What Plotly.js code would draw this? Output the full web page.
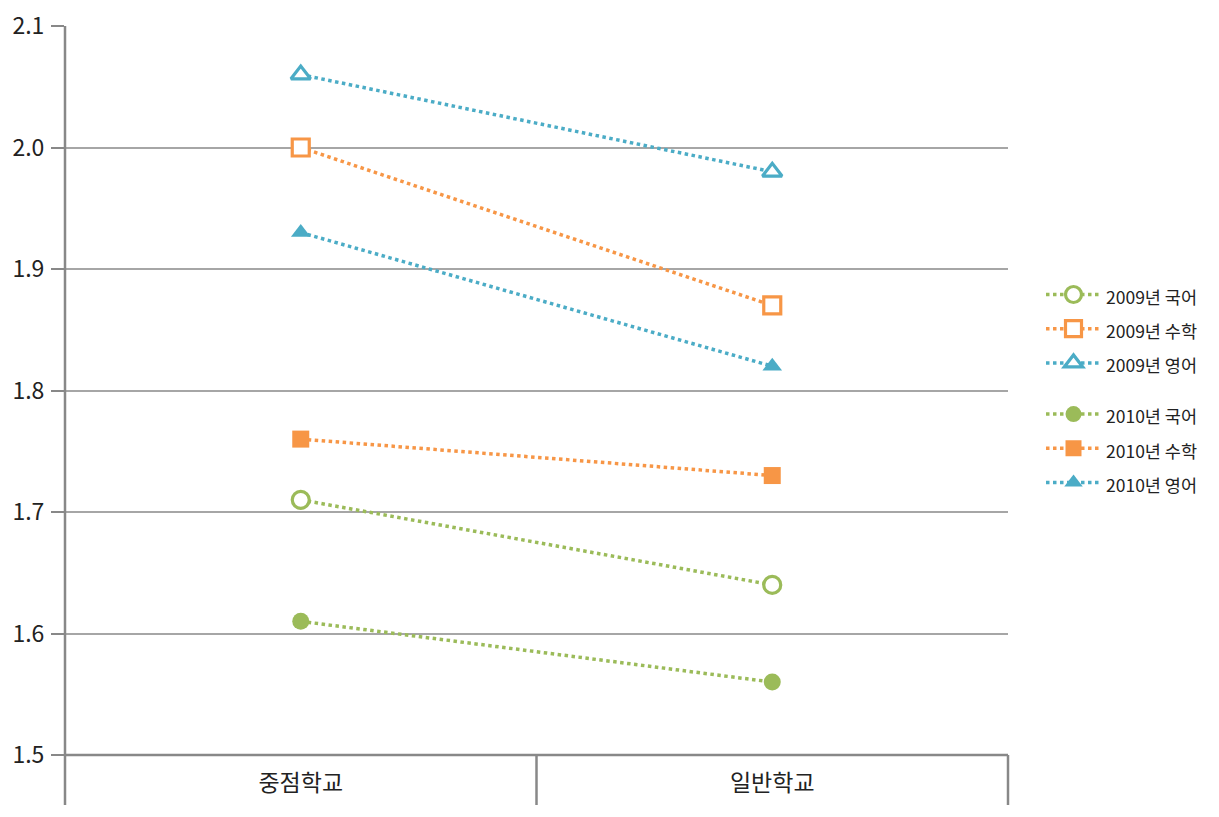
<!DOCTYPE html>
<html><head><meta charset="utf-8">
<script src="https://cdn.plot.ly/plotly-3.0.1.min.js"></script>
<style>body{margin:0;background:#fff}#c{width:1219px;height:817px}</style>
</head><body><div id="c"></div>
<script>
const categories = ['중점학교', '일반학교'];
const kor2009 = [1.71, 1.64];
const math2009 = [2.00, 1.87];
const eng2009 = [2.06, 1.98];
const kor2010 = [1.61, 1.56];
const math2010 = [1.76, 1.73];
const eng2010 = [1.93, 1.82];
const seriesNames = ['2009년 국어', '2009년 수학', '2009년 영어', '2010년 국어', '2010년 수학', '2010년 영어'];

const green = '#9BBB59', orange = '#F79646', blue = '#4BACC6';
const font = '"Noto Sans CJK KR", "Noto Sans", sans-serif';

function tr(name, y, color, symbol, open, group) {
  return {
    type: 'scatter', mode: 'lines+markers', x: categories, y: y,
    name: '<span style="font-size:17.5px">' + name + '</span>',
    legendgroup: group,
    line: {color: color, width: 3.5, dash: 'dot'},
    marker: {color: open ? '#ffffff' : color, symbol: symbol, size: 17,
             line: {color: color, width: open ? 3.2 : 0}}
  };
}
const data = [
  tr(seriesNames[0], kor2009, green, 'circle', true, 'a'),
  tr(seriesNames[1], math2009, orange, 'square', true, 'a'),
  tr(seriesNames[2], eng2009, blue, 'triangle-up', true, 'a'),
  tr(seriesNames[3], kor2010, green, 'circle', false, 'b'),
  tr(seriesNames[4], math2010, orange, 'square', false, 'b'),
  tr(seriesNames[5], eng2010, blue, 'triangle-up', false, 'b')
];

const below = -50 / 729;
const layout = {
  width: 1219, height: 817,
  margin: {l: 65, r: 211, t: 26, b: 62},
  paper_bgcolor: '#fff', plot_bgcolor: '#fff',
  font: {family: font, color: '#222'},
  showlegend: true,
  legend: {x: 1.035, xanchor: 'left', y: 0.662, yanchor: 'top', traceorder: 'grouped', tracegroupgap: 17,
           font: {size: 24, family: font, color: '#222'}, itemwidth: 55, bgcolor: 'rgba(0,0,0,0)'},
  xaxis: {type: 'category', range: [-0.5, 1.5], showgrid: false, zeroline: false, showline: false,
          ticks: '', tickfont: {size: 23, family: font, color: '#222'}, ticklabelstandoff: 12},
  yaxis: {range: [1.5, 2.1], dtick: 0.1, tickformat: '.1f', showgrid: true, gridcolor: '#a6a6a6', gridwidth: 2,
          zeroline: false, showline: false, ticks: 'outside', ticklen: 13, tickwidth: 2, tickcolor: '#888',
          tickfont: {size: 23, family: font, color: '#222'}, ticklabelstandoff: 2},
  shapes: [
    {type: 'line', xref: 'paper', yref: 'paper', x0: 0, x1: 0, y0: 1, y1: below, line: {color: '#888', width: 2.5}},
    {type: 'line', xref: 'x', yref: 'paper', x0: 0.5, x1: 0.5, y0: 0, y1: below, line: {color: '#888', width: 2.5}},
    {type: 'line', xref: 'paper', yref: 'paper', x0: 1, x1: 1, y0: 0, y1: below, line: {color: '#888', width: 2.5}},
    {type: 'line', xref: 'paper', yref: 'paper', x0: 0, x1: 1, y0: 0, y1: 0, line: {color: '#888', width: 2.5}}
  ]
};
Plotly.newPlot('c', data, layout, {displayModeBar: false});
</script></body></html>
